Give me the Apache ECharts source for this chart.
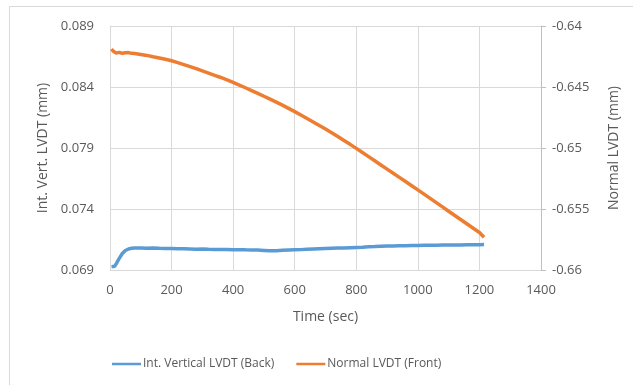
<!DOCTYPE html>
<html>
<head>
<meta charset="utf-8">
<script src="https://cdn.jsdelivr.net/npm/echarts@6/dist/echarts.min.js"></script>
<style>html,body{margin:0;padding:0;background:#fff}#c{width:633px;height:385px}</style>
</head>
<body>
<div id="c"></div>
<script>
const times = [5,10,15,20,30,40,50,60,70,80,90,100,
  120,140,160,180,200,220,240,260,280,300,320,340,360,380,400,420,440,460,480,500,
  520,540,560,580,600,620,640,660,680,700,720,740,760,780,800,820,840,860,880,900,
  920,940,960,980,1000,1020,1040,1060,1080,1100,1120,1140,1160,1180,1200,1215];
const intVertical = [0.06927,0.06925,0.06930,0.06950,0.06995,0.07035,0.07060,0.07072,0.07078,0.07081,0.07080,0.07080,
  0.07079,0.07080,0.07078,0.07077,0.07076,0.07074,0.07075,0.07073,0.07071,0.07072,0.07070,0.07069,0.07068,0.07068,0.07066,0.07067,0.07065,0.07064,0.07063,0.07060,
  0.07057,0.07058,0.07061,0.07063,0.07065,0.07067,0.07070,0.07072,0.07074,0.07076,0.07078,0.07080,0.07081,0.07083,0.07085,0.07087,0.07090,0.07092,0.07095,0.07096,
  0.07097,0.07098,0.07099,0.07100,0.07101,0.07102,0.07102,0.07103,0.07104,0.07104,0.07105,0.07105,0.07106,0.07106,0.07107,0.07108];
const normalFront = [-0.64188,-0.64205,-0.64218,-0.64222,-0.64216,-0.64224,-0.64220,-0.64218,-0.64224,-0.64226,-0.64229,-0.64233,
  -0.64241,-0.64252,-0.64262,-0.64273,-0.64285,-0.64300,-0.64316,-0.64333,-0.64350,-0.64368,-0.64386,-0.64404,-0.64422,-0.64441,-0.64462,-0.64484,-0.64506,-0.64529,-0.64552,-0.64576,
  -0.64600,-0.64624,-0.64649,-0.64675,-0.64702,-0.64730,-0.64758,-0.64787,-0.64816,-0.64845,-0.64875,-0.64906,-0.64938,-0.64970,-0.65003,-0.65037,-0.65071,-0.65105,-0.65139,-0.65173,
  -0.65207,-0.65241,-0.65275,-0.65309,-0.65343,-0.65378,-0.65413,-0.65448,-0.65483,-0.65518,-0.65553,-0.65588,-0.65623,-0.65658,-0.65693,-0.65732];
const seriesNames = ['Int. Vertical LVDT (Back)', 'Normal LVDT (Front)'];

const txt = '#595959', grid = '#D9D9D9', font = '"Open Sans", "Liberation Sans", sans-serif';
const fmt = v => String(parseFloat(v.toFixed(4)));
const chart = echarts.init(document.getElementById('c'), null, {renderer: 'canvas'});
chart.setOption({
  animation: false,
  textStyle: {fontFamily: font},
  graphic: [{type: 'rect', shape: {x: 9.5, y: 6.5, width: 700, height: 400}, style: {fill: 'none', stroke: '#D9D9D9', lineWidth: 1}, silent: true}],
  grid: {left: 110, right: 92, top: 26, bottom: 115},
  legend: {
    left: 107, top: 353, icon: 'rect', itemWidth: 29, itemHeight: 2.5, itemGap: 22,
    textStyle: {color: txt, fontSize: 12, fontFamily: font, padding: [0, 0, 0, -3]},
    data: seriesNames
  },
  xAxis: {
    type: 'value', min: 0, max: 1400, interval: 200,
    name: 'Time (sec)', nameLocation: 'middle', nameGap: 40,
    nameTextStyle: {color: txt, fontSize: 14, fontFamily: font},
    axisLine: {show: true, lineStyle: {color: grid}},
    axisTick: {show: false},
    axisLabel: {color: txt, fontSize: 13, margin: 14, formatter: v => String(v)},
    splitLine: {show: true, lineStyle: {color: grid}}
  },
  yAxis: [{
    type: 'value', min: 0.069, max: 0.089, interval: 0.005, position: 'left',
    name: 'Int. Vert. LVDT (mm)', nameLocation: 'middle', nameGap: 54, nameRotate: 90,
    nameTextStyle: {color: txt, fontSize: 14, fontFamily: font},
    axisLine: {show: true, lineStyle: {color: grid}},
    axisTick: {show: false},
    axisLabel: {color: txt, fontSize: 13, margin: 16, formatter: fmt},
    splitLine: {show: true, lineStyle: {color: grid}}
  }, {
    type: 'value', min: -0.66, max: -0.64, interval: 0.005, position: 'right',
    name: 'Normal LVDT (mm)', nameLocation: 'middle', nameGap: 66, nameRotate: 90,
    nameTextStyle: {color: txt, fontSize: 14, fontFamily: font},
    axisLine: {show: true, lineStyle: {color: '#BFBFBF'}},
    axisTick: {show: true, length: 5, lineStyle: {color: '#BFBFBF'}},
    axisLabel: {color: txt, fontSize: 13, margin: 11, formatter: fmt},
    splitLine: {show: false}
  }],
  series: [{
    name: seriesNames[0], type: 'line', yAxisIndex: 0, showSymbol: false, symbol: 'none',
    itemStyle: {color: '#5B9BD5'}, lineStyle: {color: '#5B9BD5', width: 3.5},
    data: times.map((t, i) => [t, intVertical[i]])
  }, {
    name: seriesNames[1], type: 'line', yAxisIndex: 1, showSymbol: false, symbol: 'none',
    itemStyle: {color: '#ED7D31'}, lineStyle: {color: '#ED7D31', width: 3.5},
    data: times.map((t, i) => [t, normalFront[i]])
  }]
});
</script>
</body>
</html>
